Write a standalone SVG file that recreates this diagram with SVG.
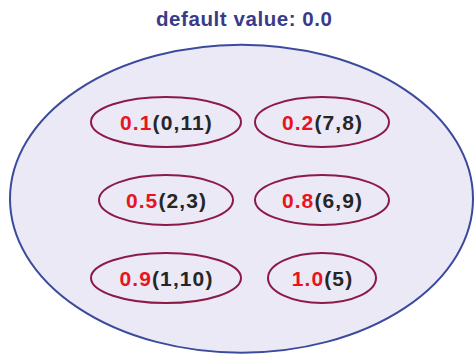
<svg xmlns="http://www.w3.org/2000/svg" width="476" height="355" viewBox="0 0 476 355">
<style>
.bg{fill:#ffffff}
.outer{fill:#ebe9f6;stroke:#3c4a9c;stroke-width:2}
.node{fill:none;stroke:#8c1a46;stroke-width:2}
.title{font-family:"Liberation Sans",Arial,sans-serif;font-weight:bold;font-size:20.5px;fill:#3a3a8a}
.lbl{font-family:"Liberation Sans",Arial,sans-serif;font-weight:bold;font-size:21px;letter-spacing:1.1px;fill:#262626}
.v{fill:#e8141e}
</style>
<rect class="bg" x="0" y="0" width="476" height="355"/>
<text class="title" x="244" y="26" text-anchor="middle" textLength="176" lengthAdjust="spacing">default value: 0.0</text>
<g id="set">
<ellipse class="outer" cx="241.5" cy="198.7" rx="231.5" ry="154"/>
</g>
<g id="connectors"></g>
<g id="n1">
<ellipse class="node" cx="166" cy="122" rx="75" ry="25"/>
<text class="lbl" x="166.5" y="129.5" text-anchor="middle"><tspan class="v">0.1</tspan>(0,11)</text>
</g>
<g id="n2">
<ellipse class="node" cx="322" cy="122" rx="67" ry="25"/>
<text class="lbl" x="322.5" y="129.5" text-anchor="middle"><tspan class="v">0.2</tspan>(7,8)</text>
</g>
<g id="n3">
<ellipse class="node" cx="166" cy="200" rx="67" ry="25"/>
<text class="lbl" x="166.5" y="207.5" text-anchor="middle"><tspan class="v">0.5</tspan>(2,3)</text>
</g>
<g id="n4">
<ellipse class="node" cx="322" cy="200" rx="67" ry="25"/>
<text class="lbl" x="322.5" y="207.5" text-anchor="middle"><tspan class="v">0.8</tspan>(6,9)</text>
</g>
<g id="n5">
<ellipse class="node" cx="166" cy="278" rx="75" ry="25"/>
<text class="lbl" x="166.5" y="285.5" text-anchor="middle"><tspan class="v">0.9</tspan>(1,10)</text>
</g>
<g id="n6">
<ellipse class="node" cx="322" cy="278" rx="54" ry="25"/>
<text class="lbl" x="322.5" y="285.5" text-anchor="middle"><tspan class="v">1.0</tspan>(5)</text>
</g>
</svg>
